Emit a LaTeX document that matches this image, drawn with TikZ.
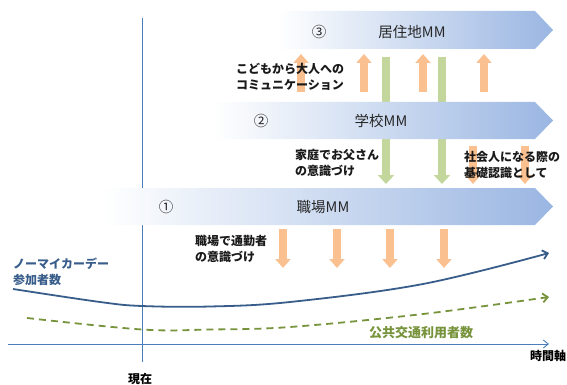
\documentclass[tikz,border=0pt]{standalone}
\usepackage{fontspec}
\setmainfont{Noto Sans CJK JP}
\usetikzlibrary{arrows.meta}
\definecolor{bandblue}{HTML}{9AB6E2}
\definecolor{bandmid}{HTML}{C6D5EF}
\definecolor{axisblue}{HTML}{4A7EBB}
\definecolor{curveblue}{HTML}{385D8A}
\definecolor{dgreen}{HTML}{77933C}
\definecolor{lorange}{HTML}{FAC090}
\definecolor{lgreen}{HTML}{C3D69B}
\begin{document}
\begin{tikzpicture}[x=1pt,y=-1pt,
  every node/.style={inner sep=0pt, outer sep=0pt},
  band/.style={left color=white, middle color=bandmid, right color=bandblue, draw=none},
  bandlabel/.style={font=\fontsize{14.5}{16}\selectfont, text=black!85},
  lab/.style={font=\fontsize{12}{16}\selectfont\bfseries, align=left, anchor=west, text=black!90},
  orarrow/.style={draw=lorange, line width=8pt, -{Triangle[width=15pt,length=9pt]}},
  grarrow/.style={draw=lgreen, line width=8pt, -{Triangle[width=16pt,length=9pt]}},
  axisline/.style={draw=axisblue, line width=0.9pt}
]
\useasboundingbox (0,0) rectangle (567,385);

% vertical "now" line and time axis
\coordinate (vtop) at (142,18);
\coordinate (vbot) at (142,362);
\draw[axisline] (vtop) -- (vbot);
\coordinate (ax0) at (8,344);
\coordinate (ax1) at (549,344);
\draw[axisline, -{Straight Barb[length=5pt,width=8pt]}] (ax0) -- (ax1);

% green long arrows (behind band 2)
\coordinate (g1a) at (386,57);  \coordinate (g1b) at (386,184);
\coordinate (g2a) at (442,57);  \coordinate (g2b) at (442,184);
\draw[grarrow] (g1a) -- (g1b);
\draw[grarrow] (g2a) -- (g2b);

% bands
\path[band] (278,11) -- (535,11) -- (553,30) -- (535,49) -- (278,49) -- cycle;
\path[band] (213,102) -- (535,102) -- (553,120.5) -- (535,139) -- (213,139) -- cycle;
\path[band] (103,188) -- (535,188) -- (553,206.5) -- (535,225) -- (103,225) -- cycle;

\node[bandlabel] (n3) at (319,32) {③};
\node[bandlabel] (b3) at (412,32) {居住地MM};
\node[bandlabel] (n2) at (261,121) {②};
\node[bandlabel] (b2) at (381,121) {学校MM};
\node[bandlabel] (n1) at (166,207) {①};
\node[bandlabel] (b1) at (323,207) {職場MM};

% orange up arrows (band2 -> band3)
\foreach \x/\n in {301/u1,364/u2,423/u3,484/u4}{
  \coordinate (\n a) at (\x,92);
  \coordinate (\n b) at (\x,54);
  \draw[orarrow] (\n a) -- (\n b);
}
% orange down arrows below band 2
\foreach \x/\n in {473/s1,525/s2}{
  \coordinate (\n a) at (\x,146);
  \coordinate (\n b) at (\x,184);
  \draw[orarrow] (\n a) -- (\n b);
}
% orange down arrows below band 1
\foreach \x/\n in {283/d1,337/d2,390/d3,444/d4}{
  \coordinate (\n a) at (\x,229);
  \coordinate (\n b) at (\x,268);
  \draw[orarrow] (\n a) -- (\n b);
}

% labels
\node[lab] (kodomo) at (236,76.5) {こどもから大人への\\コミュニケーション};
\node[lab] (katei) at (295,162.5) {家庭でお父さん\\の意識づけ};
\node[lab] (shakai) at (464,164.5) {社会人になる際の\\基礎認識として};
\node[lab] (shokuba) at (195,248.5) {職場で通勤者\\の意識づけ};
\node[lab, text=curveblue] (nomycar) at (13,272) {ノーマイカーデー\\参加者数};
\node[font=\fontsize{13}{16}\selectfont\bfseries, text=dgreen] (kokyo) at (421,333) {公共交通利用者数};
\node[font=\fontsize{12}{16}\selectfont\bfseries] (genzai) at (140,379) {現在};
\node[font=\fontsize{12}{16}\selectfont\bfseries, anchor=east] (jikan) at (566,356) {時間軸};

% curves
\draw[curveblue, line width=1.8pt, -{Straight Barb[length=5pt,width=9pt]}]
  plot[smooth, tension=0.6] coordinates {(13,289) (100,302) (142,306) (210,306.5) (290,302) (423,284) (549,253)};
\draw[dgreen, line width=1.8pt, dash pattern=on 7pt off 5pt, -{Straight Barb[length=5pt,width=9pt]}]
  plot[smooth, tension=0.6] coordinates {(27,318) (142,329.5) (210,329.5) (290,327) (423,314) (549,297)};
\end{tikzpicture}
\end{document}
